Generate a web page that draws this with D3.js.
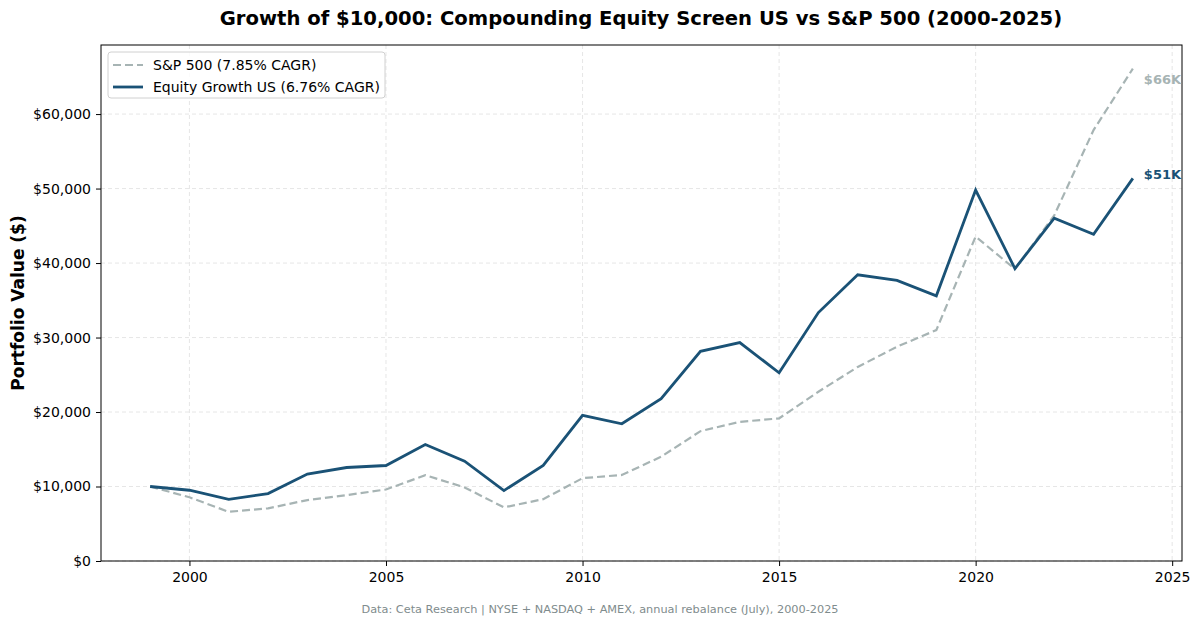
<!DOCTYPE html>
<html>
<head>
<meta charset="utf-8">
<script src="https://cdn.jsdelivr.net/npm/d3@7"></script>
<style>
  body { margin: 0; background: #fff; }
  svg { font-family: "DejaVu Sans", sans-serif; }
</style>
</head>
<body>
<script>
// yearly portfolio values, $ thousands
const years = [1999, 2000, 2001, 2002, 2003, 2004, 2005, 2006, 2007, 2008, 2009, 2010, 2011,
               2012, 2013, 2014, 2015, 2016, 2017, 2018, 2019, 2020, 2021, 2022, 2023, 2024];
const equityValues = [10.0, 9.5, 8.28, 9.05, 11.68, 12.55, 12.82, 15.64, 13.4, 9.45, 12.84, 19.55, 18.42,
                      21.8, 28.15, 29.33, 25.27, 33.35, 38.42, 37.67, 35.6, 49.8, 39.25, 46.02, 43.85, 51.37];
const spValues = [10.0, 8.55, 6.6, 7.07, 8.18, 8.85, 9.6, 11.52, 9.88, 7.2, 8.3, 11.12, 11.55,
                  14.0, 17.43, 18.68, 19.15, 22.72, 26.05, 28.77, 31.0, 43.55, 39.2, 46.4, 57.85, 66.1];
const xTicks = [2000, 2005, 2010, 2015, 2020, 2025];
const yTicks = [0, 10, 20, 30, 40, 50, 60];

const spLabel = "S&P 500 (7.85% CAGR)";
const eqLabel = "Equity Growth US (6.76% CAGR)";

const W = 1200, H = 625;
const margin = {top: 45, right: 18, bottom: 64, left: 101};
const width = W - margin.left - margin.right,
      height = H - margin.top - margin.bottom;

const navy = "#1a5276", grey = "#a7b4b4";

const svg = d3.select("body").append("svg")
  .attr("width", W).attr("height", H);

const g = svg.append("g")
  .attr("transform", "translate(" + margin.left + "," + margin.top + ")");

// scales, with matplotlib-like 5% padding on x
const x = d3.scaleLinear().domain([1997.75, 2025.25]).range([0, width]);
const y = d3.scaleLinear().domain([0, 66.1 * 1.048]).range([height, 0]);

// grid
g.append("g").selectAll("line")
  .data(xTicks).enter().append("line")
  .attr("x1", d => x(d)).attr("x2", d => x(d))
  .attr("y1", 0).attr("y2", height)
  .attr("stroke", "#e3e3e3").attr("stroke-dasharray", "4,3").attr("stroke-width", 0.9);
g.append("g").selectAll("line")
  .data(yTicks).enter().append("line")
  .attr("x1", 0).attr("x2", width)
  .attr("y1", d => y(d)).attr("y2", d => y(d))
  .attr("stroke", "#e3e3e3").attr("stroke-dasharray", "4,3").attr("stroke-width", 0.9);

// axes
const xAxis = g.append("g")
  .attr("transform", "translate(0," + height + ")")
  .call(d3.axisBottom(x).tickValues(xTicks).tickFormat(d3.format("d")).tickSize(5).tickPadding(6));
const yAxis = g.append("g")
  .call(d3.axisLeft(y).tickValues(yTicks).tickFormat(d => "$" + d3.format(",")(d * 1000)).tickSize(5).tickPadding(5));
[xAxis, yAxis].forEach(a => {
  a.selectAll("text").attr("font-size", 14).attr("fill", "#000").attr("font-family", "DejaVu Sans");
  a.selectAll("line").attr("stroke", "#000");
  a.select(".domain").remove();
});

// frame
g.append("rect")
  .attr("width", width).attr("height", height)
  .attr("fill", "none").attr("stroke", "#000").attr("stroke-width", 1);

const line = d3.line()
  .x((d, i) => x(years[i]))
  .y(d => y(d));

g.append("path")
  .datum(spValues)
  .attr("d", line)
  .attr("fill", "none").attr("stroke", grey)
  .attr("stroke-width", 2.2).attr("stroke-dasharray", "8,4");

g.append("path")
  .datum(equityValues)
  .attr("d", line)
  .attr("fill", "none").attr("stroke", navy)
  .attr("stroke-width", 2.8).attr("stroke-linejoin", "miter");

// end labels
const last = years.length - 1;
g.append("text")
  .attr("x", x(years[last]) + 11).attr("y", y(spValues[last]) + 15)
  .attr("font-size", 13).attr("font-weight", "bold").attr("fill", grey)
  .text("$" + Math.round(spValues[last]) + "K");
g.append("text")
  .attr("x", x(years[last]) + 11).attr("y", y(equityValues[last]) + 1)
  .attr("font-size", 13).attr("font-weight", "bold").attr("fill", navy)
  .text("$" + Math.round(equityValues[last]) + "K");

// legend
const leg = g.append("g").attr("transform", "translate(7,7)");
leg.append("rect")
  .attr("width", 277).attr("height", 46).attr("rx", 3)
  .attr("fill", "#fff").attr("fill-opacity", 0.8)
  .attr("stroke", "#d0d0d0");
const items = [
  {label: spLabel, color: grey, dash: "8,4", w: 2.2},
  {label: eqLabel, color: navy, dash: null, w: 2.8}
];
items.forEach((it, i) => {
  const yy = 13 + i * 22;
  leg.append("line")
    .attr("x1", 5).attr("x2", 35).attr("y1", yy).attr("y2", yy)
    .attr("stroke", it.color).attr("stroke-width", it.w)
    .attr("stroke-dasharray", it.dash);
  leg.append("text")
    .attr("x", 45).attr("y", yy + 5)
    .attr("font-size", 14).attr("fill", "#000")
    .text(it.label);
});

// titles
svg.append("text")
  .attr("x", 641).attr("y", 25)
  .attr("text-anchor", "middle")
  .attr("font-size", 19.6).attr("font-weight", "bold")
  .text("Growth of $10,000: Compounding Equity Screen US vs S&P 500 (2000-2025)");

svg.append("text")
  .attr("transform", "translate(24," + (margin.top + height / 2) + ") rotate(-90)")
  .attr("text-anchor", "middle")
  .attr("font-size", 17).attr("font-weight", "bold")
  .text("Portfolio Value ($)");

svg.append("text")
  .attr("x", 600).attr("y", 613)
  .attr("text-anchor", "middle")
  .attr("font-size", 11.3).attr("fill", "#7f8c8d")
  .text("Data: Ceta Research | NYSE + NASDAQ + AMEX, annual rebalance (July), 2000-2025");
</script>
</body>
</html>
